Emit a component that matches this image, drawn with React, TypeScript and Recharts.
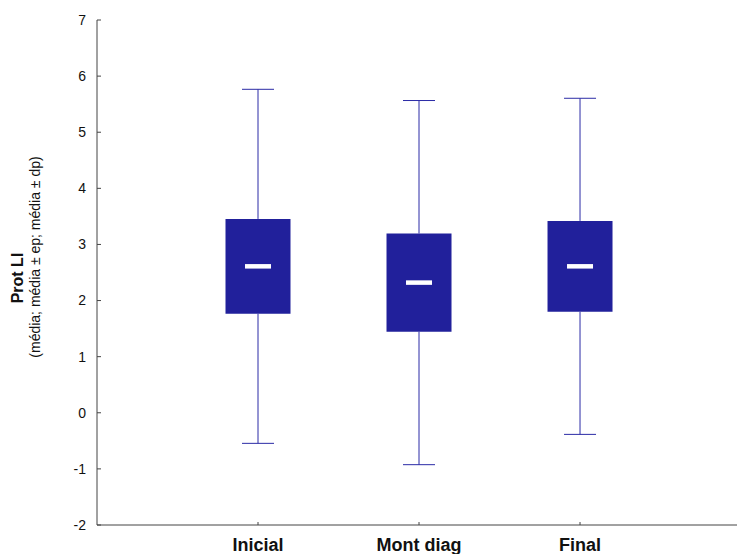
import { ComposedChart, Bar, Scatter, XAxis, YAxis, Label } from "recharts";

const CATEGORIES = ["Inicial", "Mont diag", "Final"];
const MEANS = [2.61, 2.32, 2.61];
const STD_ERR = [0.845, 0.875, 0.81];
const STD_DEV = [3.155, 3.245, 2.995];
const Y_TICKS = [-2, -1, 0, 1, 2, 3, 4, 5, 6, 7];

const BOX_FILL = "#21209b";
const WHISKER = "#2b2ba6";
const AXIS = "#444";
const FONT = "Arial, 'Liberation Sans', sans-serif";

// box = mean ± ep, drawn as a range bar at x = 1, 2, 3
const rows = CATEGORIES.map((name, i) => ({
  x: i + 1,
  name,
  mean: MEANS[i],
  box: [MEANS[i] - STD_ERR[i], MEANS[i] + STD_ERR[i]],
}));

// whiskers = mean ± dp, each one a short segment from the cap to the box edge
const whiskers = CATEGORIES.flatMap((_, i) => [
  [
    { x: i + 1, y: MEANS[i] + STD_DEV[i], cap: true },
    { x: i + 1, y: MEANS[i] + STD_ERR[i], cap: false },
  ],
  [
    { x: i + 1, y: MEANS[i] - STD_DEV[i], cap: true },
    { x: i + 1, y: MEANS[i] - STD_ERR[i], cap: false },
  ],
]);

// eslint-disable-next-line @typescript-eslint/no-explicit-any
function Cap(props: any) {
  const { cx, cy, payload } = props;
  if (!payload?.cap) return <g />;
  return (
    <line x1={cx - 16} x2={cx + 16} y1={cy} y2={cy} stroke={WHISKER} strokeWidth={1} />
  );
}

// eslint-disable-next-line @typescript-eslint/no-explicit-any
function MeanMark(props: any) {
  const { cx, cy } = props;
  return <rect x={cx - 13} y={cy - 2.25} width={26} height={4.5} fill="#fff" />;
}

// eslint-disable-next-line @typescript-eslint/no-explicit-any
function YTick(props: any) {
  const { x, y, payload } = props;
  return (
    <g>
      <line x1={x} x2={x + 4} y1={y} y2={y} stroke={AXIS} />
      <text
        x={x - 11}
        y={y}
        dy="0.35em"
        textAnchor="end"
        fontSize={14}
        fontFamily={FONT}
        fill="#111"
      >
        {payload.value}
      </text>
    </g>
  );
}

// eslint-disable-next-line @typescript-eslint/no-explicit-any
function XTick(props: any) {
  const { x, y, payload } = props;
  return (
    <g>
      <line x1={x} x2={x} y1={y} y2={y - 3} stroke={AXIS} />
      <text
        x={x}
        y={y + 26}
        textAnchor="middle"
        fontSize={18}
        fontWeight="bold"
        fontFamily={FONT}
        fill="#111"
      >
        {CATEGORIES[payload.value - 1]}
      </text>
    </g>
  );
}

function YTitle() {
  return (
    <g fontFamily={FONT} fill="#111">
      <text
        x={23}
        y={278}
        transform="rotate(-90 23 278)"
        textAnchor="middle"
        fontSize={16}
        fontWeight="bold"
      >
        Prot LI
      </text>
      <text
        x={40}
        y={257}
        transform="rotate(-90 40 257)"
        textAnchor="middle"
        fontSize={14}
      >
        (média; média ± ep; média ± dp)
      </text>
    </g>
  );
}

export default function App() {
  return (
    <div style={{ position: "absolute", left: 0, top: 0, background: "#fff" }}>
      <ComposedChart
        width={737}
        height={554}
        data={rows}
        margin={{ top: 20, right: 0, bottom: 0, left: 0 }}
      >
        <XAxis
          type="number"
          dataKey="x"
          domain={[0, 3.975]}
          ticks={[1, 2, 3]}
          interval={0}
          height={29}
          tickSize={0}
          tickMargin={0}
          tick={<XTick />}
          axisLine={{ stroke: AXIS }}
          tickLine={false}
        />
        <YAxis
          type="number"
          domain={[-2, 7]}
          ticks={Y_TICKS}
          interval={0}
          width={97}
          tickSize={0}
          tickMargin={0}
          tick={<YTick />}
          axisLine={{ stroke: AXIS }}
          tickLine={false}
        >
          <Label content={<YTitle />} />
        </YAxis>
        {whiskers.map((seg, i) => (
          <Scatter
            key={i}
            data={seg}
            dataKey="y"
            shape={<Cap />}
            line={{ stroke: WHISKER, strokeWidth: 1 }}
            isAnimationActive={false}
          />
        ))}
        <Bar dataKey="box" barSize={65} fill={BOX_FILL} isAnimationActive={false} />
        <Scatter dataKey="mean" shape={<MeanMark />} isAnimationActive={false} />
      </ComposedChart>
    </div>
  );
}
